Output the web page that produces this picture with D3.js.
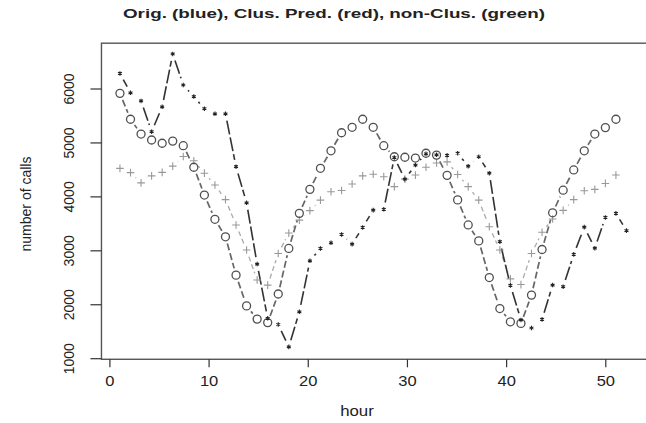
<!DOCTYPE html>
<html>
<head>
<meta charset="utf-8">
<script src="https://cdn.jsdelivr.net/npm/d3@7"></script>
<style>
body { margin: 0; background: #fff; }
text { font-family: "Liberation Sans", Arial, sans-serif; fill: #222; }
</style>
</head>
<body>
<script>
//Width and height
var w = 646;
var h = 423;

// values, one per sample (sample 1, 2, ...)
var orig = [5910, 5430, 5155, 5045, 4985, 5025, 4940, 4540, 4025, 3575, 3250, 2540,
            1970, 1725, 1660, 2190, 3035, 3685, 4130, 4520, 4845, 5180, 5280, 5430,
            5280, 4940, 4735, 4725, 4710, 4800, 4765, 4390, 3935, 3470, 3175, 2495,
            1920, 1675, 1645, 2170, 3015, 3695, 4115, 4490, 4845, 5155, 5275, 5430];
var clus = [6280, 5920, 5770, 5200, 5660, 6640, 6065, 5850, 5625, 5530, 5530, 4550,
            3880, 2745, 1740, 1625, 1210, 1860, 2805, 3035, 3140, 3295, 3115, 3425,
            3745, 3760, 4720, 4320, 4580, 4790, 4770, 4760, 4800, 4560, 4735, 4430,
            3160, 2350, 1710, 1560, 1720, 2355, 2325, 2925, 3430, 3040, 3610, 3685, 3365];
var nonClus = [4520, 4440, 4250, 4380, 4445, 4560, 4740, 4660, 4430, 4210, 3940, 3470,
               3005, 2450, 2355, 2940, 3320, 3560, 3735, 3930, 4085, 4110, 4230, 4380,
               4410, 4365, 4180, 4320, 4395, 4540, 4620, 4640, 4405, 4180, 3930, 3436,
               3005, 2470, 2365, 2940, 3335, 3580, 3740, 3940, 4105, 4130, 4240, 4395];
var xTicks = [0, 10, 20, 30, 40, 50];
var yTicks = [1000, 2000, 3000, 4000, 5000, 6000];
var hourStep = 1.064; // samples sit a little wider than one axis unit apart
var gap = 7; // type "b": lines stop short of the points

var svg = d3.select("body")
            .append("svg")
            .attr("width", w)
            .attr("height", h);

var x = d3.scaleLinear().domain([0, 50]).range([109.4, 605.3]);
var y = d3.scaleLinear().domain([1000, 6000]).range([358.2, 88.5]);

function sx(i) { return x((i + 1) * hourStep); }

// plot box (right side runs off the picture)
svg.append("rect")
  .attr("x", x(-0.8))
  .attr("y", y(6840))
  .attr("width", x(55) - x(-0.8))
  .attr("height", y(980) - y(6840))
  .attr("fill", "none")
  .attr("stroke", "#555")
  .attr("stroke-width", 1.4);

// y axis
var yAxis = svg.append("g")
  .attr("transform", "translate(" + x(-0.8) + ",0)")
  .call(d3.axisLeft(y).tickValues(yTicks).tickSize(11).tickFormat(d3.format("d")));
yAxis.select(".domain").remove();
yAxis.selectAll("line").attr("stroke", "#333").attr("stroke-width", 1.2);
yAxis.selectAll("text")
  .attr("x", null).attr("dy", null)
  .attr("transform", "translate(-27.5,0) rotate(-90)")
  .attr("text-anchor", "middle")
  .attr("font-size", "14px")
  .attr("fill", "#222");

// x axis
var xAxis = svg.append("g")
  .attr("transform", "translate(0," + y(980) + ")")
  .call(d3.axisBottom(x).tickValues(xTicks).tickSize(8));
xAxis.select(".domain").remove();
xAxis.selectAll("line").attr("stroke", "#333").attr("stroke-width", 1.2);
xAxis.selectAll("text")
  .attr("y", 27).attr("dy", null)
  .attr("transform", "scale(1.18,1)")
  .attr("font-size", "14px")
  .attr("fill", "#222");

// lines between points, with gaps like R's type = "b"
function drawLine(vals, color, width, dash) {
  var pts = vals.map(function(v, i) { return [sx(i), y(v)]; });
  var segs = d3.pairs(pts).filter(function(p) {
    var dx = p[1][0] - p[0][0], dy = p[1][1] - p[0][1];
    return Math.sqrt(dx * dx + dy * dy) > 2 * gap;
  });
  svg.append("g").selectAll("line")
    .data(segs)
    .enter()
    .append("line")
    .attr("x1", function(p) { return p[0][0] + gap * unit(p)[0]; })
    .attr("y1", function(p) { return p[0][1] + gap * unit(p)[1]; })
    .attr("x2", function(p) { return p[1][0] - gap * unit(p)[0]; })
    .attr("y2", function(p) { return p[1][1] - gap * unit(p)[1]; })
    .attr("stroke", color)
    .attr("stroke-width", width)
    .attr("stroke-dasharray", dash);
}

function unit(p) {
  var dx = p[1][0] - p[0][0], dy = p[1][1] - p[0][1];
  var d = Math.sqrt(dx * dx + dy * dy);
  return [dx / d, dy / d];
}

drawLine(nonClus, "#aaa", 1.3, "5,3");
drawLine(orig, "#666", 1.7, "7,3");
drawLine(clus, "#333", 1.6, "14,3");

svg.append("g").selectAll("path")
  .data(nonClus)
  .enter()
  .append("path")
  .attr("d", d3.symbol(d3.symbolPlus, 21))
  .attr("transform", function(d, i) { return "translate(" + sx(i) + "," + y(d) + ")"; })
  .attr("fill", "none")
  .attr("stroke", "#999")
  .attr("stroke-width", 1.1);

svg.append("g").selectAll("circle")
  .data(orig)
  .enter()
  .append("circle")
  .attr("cx", function(d, i) { return sx(i); })
  .attr("cy", function(d) { return y(d); })
  .attr("r", 4)
  .attr("fill", "none")
  .attr("stroke", "#505050")
  .attr("stroke-width", 1.3);

svg.append("g").selectAll("path")
  .data(clus)
  .enter()
  .append("path")
  .attr("d", d3.symbol(d3.symbolAsterisk, 14))
  .attr("transform", function(d, i) { return "translate(" + sx(i) + "," + y(d) + ")"; })
  .attr("fill", "none")
  .attr("stroke", "#222")
  .attr("stroke-width", 1.1);

// titles
svg.append("text")
  .text("Orig. (blue), Clus. Pred. (red), non-Clus. (green)")
  .attr("x", 334)
  .attr("y", 17.5)
  .attr("text-anchor", "middle")
  .attr("font-size", "13px")
  .attr("font-weight", "bold")
  .attr("textLength", 422)
  .attr("lengthAdjust", "spacingAndGlyphs");

svg.append("text")
  .text("hour")
  .attr("transform", "translate(357,416) scale(1.2,1)")
  .attr("text-anchor", "middle")
  .attr("font-size", "14px");

svg.append("text")
  .text("number of calls")
  .attr("transform", "translate(31,204) rotate(-90)")
  .attr("text-anchor", "middle")
  .attr("font-size", "14px");
</script>
</body>
</html>
